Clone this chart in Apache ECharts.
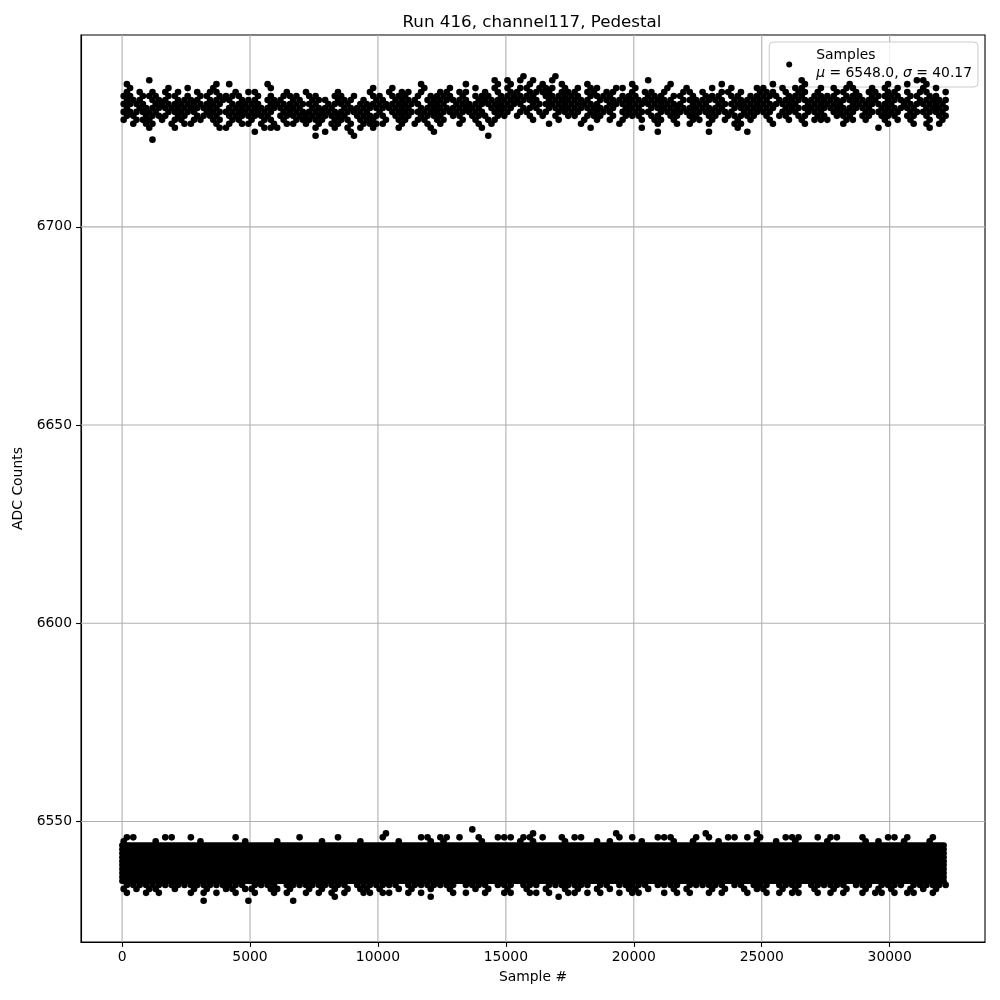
<!DOCTYPE html>
<html><head><meta charset="utf-8">
<script src="https://cdn.jsdelivr.net/npm/echarts@6/dist/echarts.min.js"></script>
<style>html,body{margin:0;padding:0;background:#fff}#chart{width:1000px;height:1000px}</style>
</head><body><div id="chart"></div>
<script>
// ---------------- data ----------------
const titleText = 'Run 416, channel117, Pedestal';
const xAxisName = 'Sample #';
const yAxisName = 'ADC Counts';
const seriesName = 'Samples';
const meanValue = 6548.0;
const sigmaValue = 40.17;

const xTicks = [0, 5000, 10000, 15000, 20000, 25000, 30000];
const yTicks = [6550, 6600, 6650, 6700];
const xLimits = [-1606, 33726];
const yLimits = [6519.6, 6748.4];

const firstSample = 0;
const lastSample = 32120;
const samplesPerChar = 250;   // each character of a row string covers 250 samples

// ADC levels of the lower (pedestal) band that are occupied over the whole run
const lowerCoreLevels = [6535, 6536, 6537, 6538, 6539, 6540, 6541, 6542, 6543, 6544];

// partially occupied ADC levels, '#' = at least one sample in that 250-sample bin
const lowerRows = {
  6548: '.......... .......... .......... .......... .......... ....#..... .......... .......... .......... .......... .......... .......... .........',
  6547: '.......... .......... .......... .......... .#........ .......... ....#..... .......#.. .......... .#.......# .......... .......... .........',
  6546: '##....##.. #......#.. .......#.. ...#...... #.....##.# #.#..#..## #.##.#..#. ##.....#.# ...###...# .#..##.#.# ...###..#. ##...#...# #.#...#..',
  6545: '#....#.... ..#......# ....#..... .#.....#.. ...#....#. #.....#... ..#.#....# ....#.#... .#....#..# ...#.....# ..#..#.... #.....#.#. ..#...#..',
  6534: '########## #########. ####.##### #####.#### ###.###### ##.####.## #.###.#### ###.##.### ##.####.## ####.##.## #.####.### ###.###.## ##.######',
  6533: '#.#.##..#. .#.#..##.# #..##.#..# .#.#.#.##. #..#.#..#. .#...#.#.. #..#..#..# .#..#.#..# #.#...#.#. ..#.#..#.# #..#.#..#. .#.#..#.#. #..#.#.#.',
  6532: '#..#.#.... #.#.#..#.. #..#.#..#. #.#.#..##. ##..#.#... .#.#..#..# #..##.#..# #.#.#..#.# #...#.#.#. .#.#...#.. #.#.##..#. #.#..#.##. #.##..#..',
  6531: '.......... .......... .......... ...#...... ........#. .......... ........#. .......... .......... .......... .......... .......... .........',
  6530: '.......... ..#......# ......#... .......... .......... .......... .......... .......... .......... .......... .......... .......... .........'
};

const upperRows = {
  6738: '.......... .......... .......... .......... .......... .......... ..#....#.. .......... .......... .......... .......... .......... .........',
  6737: '....#..... .......... .......... .......... .......... ........#. #.#.#..#.. .......... ..#....... .......... ......#... .......... ....##...',
  6736: '#......... ....#.#... ..#....... .......... ......#... ...#....#. #..#.#..#. ..#......# .....#.... ...#...... .#....#... ...#.....# ..#..#...',
  6735: '.#.....#.. #...#..... ...#...... .........# ..#....#.. .#...#..#. #.##.###.# .#.##..##. #....#..#. ..#..#...# #..#.##..# .#.##..#.# .#...#.#.',
  6734: '#.#.#.#.#. .#.##..#.# #....#..#. ...#....#. .#.##.#..# #.##..#.#. ##.####.## #.##.##..# .##.#..##. #..##.#..# ##.#.##.#. .##.#.##.# #.#.##..#',
  6733: '##.###.##. #.##.####. .#.#.###.# #..##.#..# #.###.#.## ##.#.###.# #####.#### ##.####.## #.###.##.# .###.##.## ###.###.## ##.###.### ##.##.##.',
  6732: '###.###.## ##.####.## #.###.##.# ##.###.#.# #.####.### ####.##### #####.#### ###.###### ######.### ####.##### #.######## ########.# ###.#####',
  6731: '####.##### ######.### ##.####### #.####.### #######.## #.######## ###.###### #####.#### ########.# ##.####### ######.### ###.###### #.#######',
  6730: '#.######## #####.#### ########.# ###.###### #####.#### ######.### #.###.#### #######.## #.######## ####.##### ##.####### #######.## ####.####',
  6729: '######.### ##.####### ####.##### #########. #.######## #######.## #.##.##.## ##.####.## ###.###### ######.### ##.###.### .####.#### ##.######',
  6728: '##.####.## .####.#### ###.###### #####.#### #.###.#### .##.###.## .#.#.#.#.# #.###.#.## #.##.##.## .##.#####. #.##.##.## .###.##.## #.##.#.##',
  6727: '#.###.#.## .##.##.##. #.##.#.### ##.###.### .#.##.##.# #..#.#.##. ....#...#. ..#.#.#.#. .#.##.#..# #.#.#.#.#. .#..#.#.## #..##.#..# .#.#..#.#',
  6726: '.#.##..#.# #...#.#.## .#.#.##.#. #.##.#.### #..#.#.#.# ..#..#.#.. ......#... .#.....#.. ...#..#.#. .#...##... .#....#... ..#......# ...#.#.#.',
  6725: '....#...#. .....##... ..###..... #..#.#.#.# ...#....#. ......#... .......... ...#...... .#........ ......#... .......... ........#. ......#..',
  6724: '.......... .......... #......... .#...#.... ........#. .......... .......... .......... ...#...... .#.....#.. .......... .......... .........',
  6723: '.......... .......... .......... #.....#... .......... .......#.. .......... .......... .......... .......... .......... .......... .........',
  6722: '....#..... .......... .......... .......... .......... .......... .......... .......... .......... .......... .......... .......... .........'
};

// ---------------- build point list from the rows ----------------
// within a bin, samples of odd levels sit in the first half, even levels in the second half
function rowsToPoints(rows) {
  const pts = [];
  Object.keys(rows).forEach(function (lvl) {
    const level = Number(lvl);
    const s = rows[lvl].replace(/ /g, '');
    const inBin = (level % 2 ? 0.25 : 0.75) * samplesPerChar;
    for (let i = 0; i < s.length; i++) {
      if (s[i] === '#') pts.push([i * samplesPerChar + inBin, level]);
    }
  });
  return pts;
}
const scatterPoints = rowsToPoints(lowerRows).concat(rowsToPoints(upperRows));

const FONT = 'DejaVu Sans';
const FS = 13.9;
const gridStyle = { color: '#b0b0b0', width: 1.1, type: 'solid', opacity: 1 };

const series = [];
// grid lines at the tick values (drawn below the samples)
xTicks.forEach(function (v) {
  series.push({ type: 'line', silent: true, z: 1, symbol: 'none', lineStyle: gridStyle,
    data: [[v, yLimits[0]], [v, yLimits[1]]] });
});
yTicks.forEach(function (v) {
  series.push({ type: 'line', silent: true, z: 1, symbol: 'none', lineStyle: gridStyle,
    data: [[xLimits[0], v], [xLimits[1], v]] });
});
lowerCoreLevels.forEach(function (lvl) {
  series.push({
    name: seriesName, type: 'line', silent: true, z: 3,
    data: [[firstSample, lvl], [lastSample, lvl]],
    symbol: 'none',
    lineStyle: { color: '#000', width: 6, cap: 'round', opacity: 1 },
    itemStyle: { color: '#000' }
  });
});
series.push({
  name: seriesName, type: 'scatter', silent: true, z: 4,
  data: scatterPoints, symbol: 'circle', symbolSize: 6.6,
  itemStyle: { color: '#000', opacity: 1 }
});

const chart = echarts.init(document.getElementById('chart'), null, { renderer: 'canvas' });
chart.setOption({
  animation: false,
  backgroundColor: '#fff',
  title: {
    text: titleText, left: 527, top: 9, textAlign: 'center',
    textStyle: { fontFamily: FONT, fontSize: 16.7, fontWeight: 'normal', color: '#000' }
  },
  legend: {
    data: [{ name: seriesName, icon: 'circle', itemStyle: { color: '#000', opacity: 1 } }],
    right: 22, top: 42, orient: 'vertical',
    selectedMode: false,
    itemWidth: 38, itemHeight: 6,
    padding: [5, 6, 5, 17],
    backgroundColor: 'rgba(255,255,255,0.8)',
    borderColor: '#cccccc', borderWidth: 1, borderRadius: 4,
    formatter: function () {
      return seriesName + '\n{i|μ} = ' + meanValue.toFixed(1) + ', {i|σ} = ' + sigmaValue.toFixed(2);
    },
    textStyle: {
      fontFamily: FONT, fontSize: FS, color: '#000', lineHeight: 17.5, padding: [0, 0, 0, 3],
      rich: { i: { fontFamily: FONT, fontSize: FS, fontStyle: 'italic', color: '#000', lineHeight: 17.5 } }
    }
  },
  grid: {
    left: 81, right: 15, top: 35, bottom: 58,
    show: true, borderColor: '#000', borderWidth: 1.1, backgroundColor: 'transparent'
  },
  xAxis: {
    type: 'value', min: xLimits[0], max: xLimits[1],
    name: xAxisName, nameLocation: 'middle', nameGap: 28,
    nameTextStyle: { fontFamily: FONT, fontSize: FS, color: '#000' },
    axisLine: { show: true, onZero: false, lineStyle: { color: '#000', width: 1.1 } },
    axisTick: { show: true, inside: false, length: 4.9, customValues: xTicks, lineStyle: { color: '#000', width: 1.1 } },
    axisLabel: { customValues: xTicks, margin: 8, fontFamily: FONT, fontSize: FS, color: '#000', formatter: v => String(v) },
    splitLine: { show: false }
  },
  yAxis: {
    type: 'value', min: yLimits[0], max: yLimits[1],
    name: yAxisName, nameLocation: 'middle', nameGap: 50,
    nameTextStyle: { fontFamily: FONT, fontSize: FS, color: '#000' },
    axisLine: { show: true, onZero: false, lineStyle: { color: '#000', width: 1.1 } },
    axisTick: { show: true, inside: false, length: 4.9, customValues: yTicks, lineStyle: { color: '#000', width: 1.1 } },
    axisLabel: { customValues: yTicks, margin: 9, fontFamily: FONT, fontSize: FS, color: '#000', formatter: v => String(v) },
    splitLine: { show: false }
  },
  series: series
});
</script>
</body></html>
